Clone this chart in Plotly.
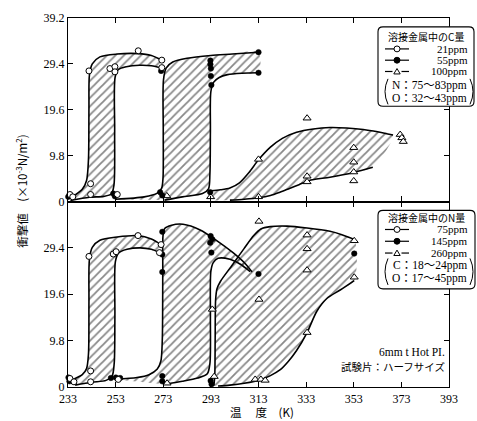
import plotly.graph_objects as go

# ---------------- axes ----------------
X_TICKS = [233, 253, 273, 293, 313, 333, 353, 373, 393]
Y_TICKS_TOP = [0, 9.8, 19.6, 29.4, 39.2]
Y_TICKS_BOTTOM = [0, 9.8, 19.6, 29.4]

# ---------------- upper panel: C content of weld metal ----------------
# each band is bounded by two transition curves (a = low-temperature side, b = high side)
c21_a_x = [233.0, 236.0, 239.0, 240.8, 241.6, 241.8, 242.0, 243.2, 246.4, 253.6, 262.4, 268.0, 272.4]
c21_a_y = [0.6, 1.4, 2.6, 4.5, 9.0, 20.0, 27.0, 29.4, 30.9, 31.5, 31.6, 31.2, 30.2]
c21_b_x = [234.0, 242.0, 248.0, 251.2, 252.3, 252.6, 252.8, 254.2, 257.5, 263.0, 268.0, 272.4]
c21_b_y = [0.2, 0.9, 1.1, 1.6, 3.5, 15.0, 26.6, 28.2, 28.8, 29.1, 29.0, 28.5]

c55_a_x = [253.0, 265.0, 270.5, 272.3, 272.9, 273.0, 273.1, 274.2, 277.0, 283.0, 293.0, 302.0, 313.0]
c55_a_y = [0.5, 1.0, 1.8, 2.8, 5.0, 15.0, 26.0, 28.5, 29.8, 30.6, 31.2, 31.5, 31.9]
c55_b_x = [273.5, 281.0, 289.5, 292.0, 292.6, 292.8, 293.0, 294.2, 296.5, 300.0, 306.0, 313.0]
c55_b_y = [0.3, 1.0, 1.7, 2.7, 6.0, 15.0, 23.5, 25.5, 26.5, 27.1, 27.4, 27.5]

c100_a_x = [293.0, 297.0, 301.0, 305.0, 309.0, 313.0, 318.0, 323.0, 329.0, 336.0, 343.0, 350.0, 357.0, 363.0, 369.5]
c100_a_y = [2.3, 2.5, 2.9, 4.0, 6.2, 8.9, 11.6, 13.5, 14.8, 15.5, 15.8, 15.7, 15.4, 14.9, 14.2]
c100_b_x = [294.0, 301.0, 307.0, 313.0, 318.0, 322.0, 326.0, 330.0, 335.0, 343.0, 353.0, 361.0]
c100_b_y = [0.2, 0.3, 0.5, 0.8, 1.3, 2.0, 2.8, 3.6, 4.6, 5.2, 6.2, 7.3]

c21_pts_x = [233.8, 235.0, 241.8, 242.5, 242.5, 250.6, 252.7, 252.7, 253.7, 262.5, 272.4, 272.4]
c21_pts_y = [1.5, 1.0, 27.9, 3.8, 1.5, 28.4, 28.8, 27.7, 1.5, 32.2, 30.2, 28.6]
c55_pts_x = [233.1, 252.0, 252.7, 272.1, 271.7, 272.6, 292.8, 292.8, 293.0, 293.0, 293.2, 292.7, 313.0, 313.0]
c55_pts_y = [1.0, 1.7, 1.1, 27.9, 2.0, 1.3, 30.1, 29.3, 28.4, 26.8, 24.9, 2.0, 31.9, 27.5]
c100_pts_x = [274.5, 292.9, 333.4, 313.0, 313.0, 333.4, 333.4, 353.0, 353.0, 353.0, 353.0, 372.5, 373.2, 373.8]
c100_pts_y = [1.2, 1.0, 17.8, 9.0, 1.0, 5.4, 4.2, 11.5, 8.4, 6.3, 4.4, 14.3, 13.6, 12.8]

# ---------------- lower panel: N content of weld metal ----------------
n75_a_x = [233.0, 236.0, 239.0, 240.8, 241.6, 241.8, 242.0, 243.2, 246.4, 253.6, 262.4, 268.0, 272.1]
n75_a_y = [1.3, 1.8, 2.6, 3.9, 7.0, 18.0, 27.0, 29.5, 31.0, 31.7, 32.0, 31.3, 30.1]
n75_b_x = [236.0, 243.0, 249.0, 251.5, 252.4, 252.7, 252.9, 254.2, 257.8, 263.3, 268.0, 271.4]
n75_b_y = [0.4, 1.0, 1.4, 2.3, 5.0, 15.0, 26.5, 28.3, 29.1, 29.4, 29.1, 28.4]

n145_a_x = [253.0, 262.0, 267.0, 270.5, 272.0, 272.6, 272.8, 272.9, 273.6, 276.5, 281.3, 288.5, 295.6, 302.3, 307.0, 310.3]
n145_a_y = [1.6, 2.0, 2.6, 3.8, 5.5, 10.0, 25.0, 32.0, 33.5, 34.2, 34.4, 33.2, 30.9, 28.4, 26.3, 24.3]
n145_b_x = [273.5, 281.0, 287.5, 291.5, 292.6, 292.8, 293.0, 294.0, 296.0, 301.0, 305.2, 309.5]
n145_b_y = [0.6, 1.2, 1.9, 2.8, 5.0, 15.0, 24.5, 26.3, 27.2, 27.0, 26.0, 24.4]

n260_a_x = [294.2, 294.6, 294.8, 295.0, 295.6, 297.0, 302.0, 307.0, 311.0, 314.0, 318.0, 325.0, 333.4, 343.0, 348.0, 353.2]
n260_a_y = [0.3, 2.0, 10.0, 18.5, 20.8, 22.3, 25.8, 29.3, 32.0, 33.4, 33.9, 34.0, 33.6, 32.9, 32.2, 31.2]
n260_b_x = [296.0, 301.0, 307.0, 313.7, 318.0, 322.0, 325.5, 329.0, 333.4, 337.5, 341.7, 347.3, 353.2]
n260_b_y = [0.2, 0.4, 0.8, 1.5, 2.4, 3.6, 5.4, 7.7, 11.5, 16.0, 18.7, 20.5, 22.5]

n75_pts_x = [233.8, 235.5, 241.8, 242.5, 242.5, 252.0, 253.2, 254.1, 262.4, 272.1, 271.4]
n75_pts_y = [1.8, 1.1, 27.6, 3.4, 1.1, 28.1, 28.6, 1.6, 32.0, 30.1, 28.4]
n145_pts_x = [233.2, 233.6, 251.0, 253.1, 254.9, 272.6, 272.6, 272.6, 272.6, 272.6,
              292.9, 293.6, 292.7, 293.2, 292.9, 293.3, 313.0, 353.2]
n145_pts_y = [2.0, 1.2, 1.9, 2.0, 1.9, 32.8, 28.0, 24.3, 2.3, 1.2,
              31.9, 31.2, 30.5, 28.4, 1.3, 0.6, 23.9, 28.2]
n260_pts_x = [313.2, 333.4, 333.4, 333.4, 353.2, 353.2, 313.2, 333.4, 311.6, 314.0, 315.8, 293.6, 294.4, 274.6]
n260_pts_y = [35.0, 32.1, 29.2, 24.7, 30.9, 23.2, 18.5, 11.5, 1.6, 1.6, 1.4, 16.4, 2.2, 0.8]

# ---------------- figure geometry (pixels) ----------------
W, H = 477, 421
PL, PR, PT, PB = 68, 449, 11, 387   # plot area edges
MID = 198                            # border between the two panels
SPLIT = (PB - MID) / (PB - PT)

SERIF = "Liberation Serif, Times New Roman, serif"
MIXED = "Liberation Serif, Noto Sans CJK JP, serif"
CJK = "Noto Sans CJK JP"


def P(px, py):
    """pixel position -> paper coordinates"""
    return (px - PL) / (PR - PL), (PB - py) / (PB - PT)


fig = go.Figure()

HATCH = dict(shape="/", size=6, solidity=0.3, fgcolor="#111111")
LINE = dict(color="black", width=1.6, shape="spline", smoothing=0.8)


def band(ax, ay, bx, by, xa, ya, a_from=0, b_from=0):
    px = ax + bx[::-1]
    py = ay + by[::-1]
    fig.add_trace(go.Scatter(x=px, y=py, xaxis=xa, yaxis=ya, mode="lines", fill="toself",
                             fillcolor="rgba(0,0,0,0)", fillpattern=HATCH,
                             line=dict(width=0, shape="spline", smoothing=0.8),
                             hoverinfo="skip", showlegend=False))
    fig.add_trace(go.Scatter(x=ax[a_from:], y=ay[a_from:], xaxis=xa, yaxis=ya, mode="lines",
                             line=LINE, hoverinfo="skip", showlegend=False))
    fig.add_trace(go.Scatter(x=bx[b_from:], y=by[b_from:], xaxis=xa, yaxis=ya, mode="lines",
                             line=LINE, hoverinfo="skip", showlegend=False))


def points(x, y, xa, ya, kind):
    if kind == "open":
        m = dict(symbol="circle", size=6, color="white", line=dict(color="black", width=1))
    elif kind == "filled":
        m = dict(symbol="circle", size=5.5, color="black", line=dict(color="black", width=0.5))
    else:
        m = dict(symbol="triangle-up", size=7, color="white", line=dict(color="black", width=1))
    fig.add_trace(go.Scatter(x=x, y=y, xaxis=xa, yaxis=ya, mode="markers", marker=m,
                             cliponaxis=False, hoverinfo="skip", showlegend=False))


# upper panel
band(c21_a_x, c21_a_y, c21_b_x, c21_b_y, "x2", "y2")
band(c55_a_x, c55_a_y, c55_b_x, c55_b_y, "x2", "y2")
band(c100_a_x, c100_a_y, c100_b_x, c100_b_y, "x2", "y2", b_from=1)
points(c100_pts_x, c100_pts_y, "x2", "y2", "tri")
points(c55_pts_x, c55_pts_y, "x2", "y2", "filled")
points(c21_pts_x, c21_pts_y, "x2", "y2", "open")

# lower panel
band(n75_a_x, n75_a_y, n75_b_x, n75_b_y, "x", "y")
band(n145_a_x, n145_a_y, n145_b_x, n145_b_y, "x", "y")
band(n260_a_x, n260_a_y, n260_b_x, n260_b_y, "x", "y")
points(n260_pts_x, n260_pts_y, "x", "y", "tri")
points(n145_pts_x, n145_pts_y, "x", "y", "filled")
points(n75_pts_x, n75_pts_y, "x", "y", "open")

axis_common = dict(showline=True, linecolor="black", linewidth=1.2, mirror="ticks",
                   ticks="inside", ticklen=5, tickwidth=1, tickcolor="black",
                   showgrid=False, zeroline=False,
                   tickfont=dict(family=SERIF, size=12, color="black"))

fig.update_layout(
    width=W, height=H,
    margin=dict(l=PL, r=W - PR, t=PT, b=H - PB, pad=0),
    paper_bgcolor="white", plot_bgcolor="white",
    xaxis=dict(range=[233, 393], tickvals=X_TICKS, ticktext=[str(v) for v in X_TICKS],
               anchor="y", domain=[0, 1], **axis_common),
    xaxis2=dict(range=[233, 393], tickvals=X_TICKS, showticklabels=False,
                anchor="y2", domain=[0, 1], matches="x", **axis_common),
    yaxis=dict(range=[0, 39.2], tickvals=Y_TICKS_BOTTOM, ticktext=["0", "9.8", "19.6", "29.4"],
               domain=[0, SPLIT], anchor="x", **axis_common),
    yaxis2=dict(range=[0, 39.2], tickvals=Y_TICKS_TOP, ticktext=["0", "9.8", "19.6", "29.4", "39.2"],
                domain=[SPLIT, 1], anchor="x2", **axis_common),
)

shapes = []
annotations = []


def text(px, py, s, size=12, family=SERIF, anchor="center", angle=0):
    x, y = P(px, py)
    annotations.append(dict(x=x, y=y, xref="paper", yref="paper", text=s, showarrow=False,
                            xanchor=anchor, yanchor="middle", textangle=angle,
                            font=dict(family=family, size=size, color="black")))


def rounded_box(x0, y0, x1, y1, r=5):
    ax0, ay0 = P(x0, y0)
    ax1, ay1 = P(x1, y1)
    rx = r / (PR - PL)
    ry = r / (PB - PT)
    # y0 is the top in pixels -> ay0 is the larger paper value
    path = (f"M {ax0 + rx},{ay0} L {ax1 - rx},{ay0} Q {ax1},{ay0} {ax1},{ay0 - ry} "
            f"L {ax1},{ay1 + ry} Q {ax1},{ay1} {ax1 - rx},{ay1} "
            f"L {ax0 + rx},{ay1} Q {ax0},{ay1} {ax0},{ay1 + ry} "
            f"L {ax0},{ay0 - ry} Q {ax0},{ay0} {ax0 + rx},{ay0} Z")
    shapes.append(dict(type="path", path=path, xref="paper", yref="paper",
                       line=dict(color="black", width=1.1), fillcolor="white", layer="above"))


def bracket(px, ytop, ybot, bulge):
    x0, y0 = P(px, ytop)
    x1, y1 = P(px, ybot)
    xm, ym = P(px + bulge, (ytop + ybot) / 2)
    shapes.append(dict(type="path", path=f"M {x0},{y0} Q {xm},{ym} {x1},{y1}",
                       xref="paper", yref="paper", line=dict(color="black", width=1), layer="above"))


def legend_symbol(py, kind):
    xa, ya = P(385, py)
    xb, _ = P(409, py)
    shapes.append(dict(type="line", x0=xa, x1=xb, y0=ya, y1=ya, xref="paper", yref="paper",
                       line=dict(color="black", width=1.2), layer="above"))
    if kind == "tri":
        # white gap around the small triangle
        gx0, gy0 = P(392.5, py - 3)
        gx1, gy1 = P(401.5, py + 3)
        shapes.append(dict(type="rect", x0=gx0, x1=gx1, y0=gy1, y1=gy0, xref="paper", yref="paper",
                           line=dict(width=0), fillcolor="white", layer="above"))
        t1 = P(397, py - 3)
        t2 = P(393.8, py + 2.5)
        t3 = P(400.2, py + 2.5)
        shapes.append(dict(type="path", path=f"M {t1[0]},{t1[1]} L {t2[0]},{t2[1]} L {t3[0]},{t3[1]} Z",
                           xref="paper", yref="paper", line=dict(color="black", width=1),
                           fillcolor="white", layer="above"))
    else:
        cx0, cy0 = P(394, py - 3)
        cx1, cy1 = P(400, py + 3)
        shapes.append(dict(type="circle", x0=cx0, x1=cx1, y0=cy1, y1=cy0, xref="paper", yref="paper",
                           line=dict(color="black", width=1),
                           fillcolor="black" if kind == "filled" else "white", layer="above"))


# legend of the upper panel
rounded_box(378, 20, 474, 101)
text(426, 29.5, "溶接金属中のC量", size=10, family=CJK)
for py, kind, s in [(42.5, "open", "21ppm"), (54, "filled", "55ppm"), (65.5, "tri", "100ppm")]:
    legend_symbol(py, kind)
    text(470, py, s, size=11, anchor="right")
bracket(388, 73, 99, -6)
bracket(470, 73, 99, 6)
text(429.5, 80, "N：75〜83ppm", size=11.5, family=MIXED)
text(429.5, 93, "O：32〜43ppm", size=11.5, family=MIXED)

# legend of the lower panel
rounded_box(378, 207, 475, 287)
text(426, 214.5, "溶接金属中のN量", size=10, family=CJK)
for py, kind, s in [(226.5, "open", "75ppm"), (238.5, "filled", "145ppm"), (250.5, "tri", "260ppm")]:
    legend_symbol(py, kind)
    text(470, py, s, size=11, anchor="right")
bracket(388, 256, 283, -6)
bracket(470, 256, 283, 6)
text(429.5, 263, "C：18〜24ppm", size=11.5, family=MIXED)
text(429.5, 276, "O：17〜45ppm", size=11.5, family=MIXED)

# specimen note
text(447, 351, "6mm t Hot PI.", size=11.5, anchor="right")
text(447, 366, "試験片：ハーフサイズ", size=10.5, family=CJK, anchor="right")

# axis titles
text(262, 412, "温　 度　(K)", size=11.5, family=CJK)
text(22, 188, "衝撃値　(×10<sup>-3</sup>N/m<sup>2</sup>)", size=11.5, family=CJK, angle=-90)

fig.update_layout(shapes=shapes, annotations=annotations)
fig.write_html("out.html")
